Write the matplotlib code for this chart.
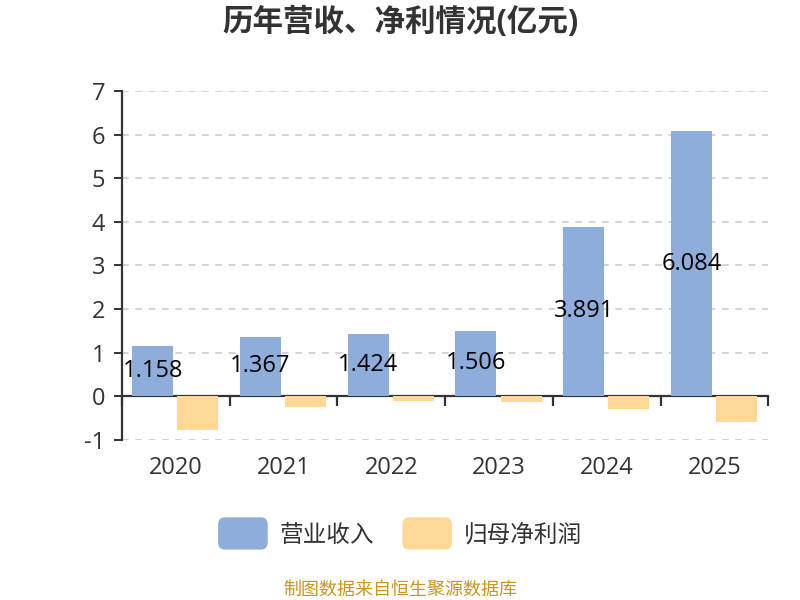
import matplotlib
matplotlib.use("Agg")
import matplotlib.pyplot as plt
import numpy as np
from matplotlib.patches import FancyBboxPatch
from matplotlib.legend_handler import HandlerPatch

plt.rcParams['font.family'] = ['Open Sans', 'Noto Sans CJK SC', 'DejaVu Sans']

years = ['2020', '2021', '2022', '2023', '2024', '2025']
revenue = [1.158, 1.367, 1.424, 1.506, 3.891, 6.084]
net_profit = [-0.78, -0.24, -0.10, -0.13, -0.29, -0.59]
series_names = ['营业收入', '归母净利润']
yticks = [-1, 0, 1, 2, 3, 4, 5, 6, 7]

blue = '#8EADDA'
orange = '#FFD897'
txt = '#333333'

fig = plt.figure(figsize=(8, 6), dpi=100)
ax = fig.add_axes([0.1525, 0.267, 0.808, 0.581])

x = np.arange(len(years))
w = 0.38
b1 = ax.bar(x - 0.215, revenue, width=w, color=blue, label=series_names[0], zorder=3)
b2 = ax.bar(x + 0.205, net_profit, width=w, color=orange, label=series_names[1], zorder=3)

for xi, v in zip(x - 0.215, revenue):
    ax.text(xi, v / 2, f'{v:.3f}', ha='center', va='center', fontsize=17, color='black', zorder=5)

ax.set_xlim(-0.5, len(years) - 0.5)
ax.set_ylim(-1, 7)
ax.set_yticks(yticks)
ax.set_yticklabels([str(t) for t in yticks])
ax.yaxis.grid(True, linestyle=(0, (4, 4)), color='#cccccc', linewidth=1.2, zorder=0)
ax.set_axisbelow(True)

for s in ['top', 'right']:
    ax.spines[s].set_visible(False)
ax.spines['left'].set_color(txt)
ax.spines['left'].set_linewidth(1.6)
ax.spines['bottom'].set_position(('data', 0))
ax.spines['bottom'].set_color(txt)
ax.spines['bottom'].set_linewidth(1.6)

ax.set_xticks(x)
ax.set_xticklabels(years)
ax.set_xticks(np.arange(len(years) + 1) - 0.5, minor=True)
ax.tick_params(axis='x', which='major', length=0, pad=43, labelsize=17, labelcolor=txt)
ax.tick_params(axis='x', which='minor', length=7, width=1.6, color=txt, direction='out')
ax.tick_params(axis='y', length=6, width=1.4, color=txt, labelsize=17, labelcolor=txt, pad=6)

fig.text(0.5, 0.962, '历年营收、净利情况(亿元)', ha='center', va='center',
         fontsize=22, fontweight='bold', color=txt)


class RoundHandler(HandlerPatch):
    def create_artists(self, legend, orig_handle, xdescent, ydescent, width, height, fontsize, trans):
        p = FancyBboxPatch((-xdescent, -ydescent - 4), width, height + 8,
                           boxstyle='round,pad=0,rounding_size=5',
                           facecolor=orig_handle.get_facecolor(), edgecolor='none', transform=trans)
        return [p]


leg = fig.legend(handles=[b1.patches[0], b2.patches[0]], labels=series_names,
                 loc='center', bbox_to_anchor=(0.5, 0.108), ncol=2, frameon=False,
                 fontsize=17, handlelength=2.1, handleheight=1.0, columnspacing=1.2,
                 handletextpad=0.5, labelcolor=txt,
                 handler_map={b1.patches[0]: RoundHandler(), b2.patches[0]: RoundHandler()})

fig.text(0.5, 0.017, '制图数据来自恒生聚源数据库', ha='center', va='center',
         fontsize=13, color='#C8951F')

fig.savefig('out.png', dpi=100)
